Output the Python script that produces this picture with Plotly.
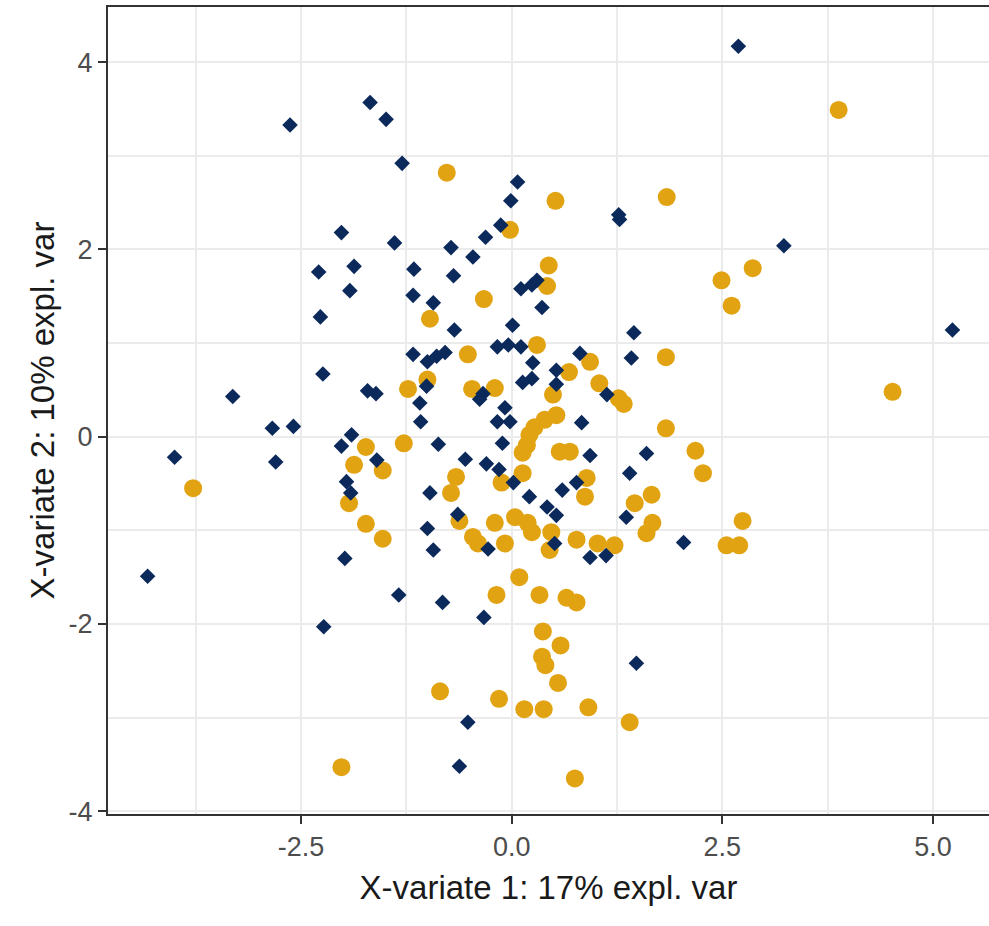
import plotly.graph_objects as go

# Group A (navy diamonds)
a_x = [-2.63, -2.29, -1.68, -1.49, -1.30, 0.07, -0.01, 1.27, 1.28, -2.02,
       -1.39, -0.72, -0.46, -0.31, -0.13, 0.11, 0.24, 0.30, 0.36, -1.87,
       -1.92, -1.16, -1.17, -0.69, -0.93, 2.69, 3.23, 5.23, 2.04, -2.27,
       -2.24, -3.31, -2.84, -2.59, -4.00, -2.80, -4.32, -2.23, -0.33, 1.48,
       -0.52, -0.62, -0.68, 0.01, 1.45, -0.17, -0.04, 0.11, -1.17, -1.00,
       -0.89, -0.79, 0.81, 1.42, 0.25, 0.24, 0.13, 0.53, 0.53, -1.01,
       -1.71, -1.61, -0.34, -0.38, 1.13, -1.09, -0.08, -0.17, -0.02, -1.08,
       0.83, -1.90, -2.02, -0.87, -0.11, 1.60, 0.93, -0.55, -1.60, -0.30,
       -0.15, 1.40, 0.02, -1.96, -1.91, 0.77, 0.60, -0.97, 0.21, 0.42,
       0.53, -0.64, 1.36, -1.00, -0.28, -0.93, 0.51, 0.93, 1.12, -1.98,
       -1.34, -0.82]
a_y = [3.33, 1.76, 3.57, 3.39, 2.92, 2.72, 2.52, 2.37, 2.32, 2.18,
       2.07, 2.02, 1.92, 2.13, 2.26, 1.58, 1.62, 1.67, 1.38, 1.82,
       1.56, 1.79, 1.51, 1.72, 1.43, 4.17, 2.04, 1.14, -1.13, 1.28,
       0.67, 0.43, 0.09, 0.11, -0.22, -0.27, -1.49, -2.03, -1.93, -2.42,
       -3.05, -3.52, 1.14, 1.19, 1.11, 0.96, 0.98, 0.96, 0.88, 0.80,
       0.86, 0.90, 0.89, 0.84, 0.79, 0.62, 0.58, 0.71, 0.56, 0.54,
       0.49, 0.46, 0.46, 0.40, 0.45, 0.36, 0.31, 0.16, 0.16, 0.16,
       0.15, 0.02, -0.10, -0.08, -0.07, -0.18, -0.20, -0.24, -0.25, -0.29,
       -0.35, -0.39, -0.49, -0.48, -0.60, -0.49, -0.57, -0.60, -0.64, -0.75,
       -0.84, -0.83, -0.86, -0.98, -1.20, -1.21, -1.14, -1.29, -1.27, -1.30,
       -1.69, -1.77]

# Group B (gold circles)
b_x = [-0.77, 0.52, 1.84, -0.02, 0.44, 0.42, -0.33, 3.88, 2.86, 2.49,
       2.61, 4.52, 1.83, 1.83, 2.18, 2.27, 2.74, 2.55, 2.70, -3.78,
       0.37, 0.58, 0.36, 0.40, 0.55, -0.85, -0.15, 0.15, 0.38, 0.91,
       1.40, -2.02, 0.75, -0.97, 0.30, -0.52, 0.93, 0.68, -1.00, -1.23,
       -0.47, -0.20, 0.49, 1.04, 1.27, 1.33, 0.53, 0.39, 0.27, 0.21,
       0.18, 0.13, -1.28, -1.73, 0.57, 0.69, -1.87, -1.53, -0.66, -0.72,
       0.13, -0.12, 0.89, 0.87, -1.93, 1.66, 1.46, 1.67, 1.60, -1.73,
       -1.53, -0.62, -0.20, 0.04, 0.19, 0.24, 0.47, -0.46, -0.40, -0.08,
       0.45, 0.77, 1.02, 1.22, 0.09, -0.18, 0.33, 0.65, 0.77]
b_y = [2.82, 2.52, 2.56, 2.21, 1.83, 1.61, 1.47, 3.49, 1.80, 1.67,
       1.40, 0.48, 0.85, 0.09, -0.15, -0.39, -0.90, -1.16, -1.16, -0.55,
       -2.08, -2.23, -2.35, -2.44, -2.63, -2.72, -2.80, -2.91, -2.91, -2.89,
       -3.05, -3.53, -3.65, 1.26, 0.98, 0.88, 0.80, 0.69, 0.61, 0.51,
       0.51, 0.52, 0.45, 0.57, 0.41, 0.35, 0.23, 0.18, 0.10, 0.02,
       -0.09, -0.17, -0.07, -0.11, -0.16, -0.16, -0.30, -0.36, -0.43, -0.60,
       -0.39, -0.49, -0.44, -0.64, -0.71, -0.62, -0.71, -0.92, -1.03, -0.93,
       -1.09, -0.90, -0.92, -0.86, -0.92, -1.02, -1.02, -1.07, -1.14, -1.14,
       -1.21, -1.10, -1.14, -1.16, -1.50, -1.69, -1.69, -1.72, -1.77]

x_ticks = [-2.5, 0.0, 2.5, 5.0]
x_ticklabels = ["-2.5", "0.0", "2.5", "5.0"]
y_ticks = [-4, -2, 0, 2, 4]
y_ticklabels = ["-4", "-2", "0", "2", "4"]

x_title = "X-variate 1: 17% expl. var"
y_title = "X-variate 2: 10% expl. var"

fig = go.Figure()
fig.add_trace(go.Scatter(
    x=b_x, y=b_y, mode="markers",
    marker=dict(symbol="circle", size=18, color="#E2A312", line=dict(width=0)),
    showlegend=False, hoverinfo="skip"))
fig.add_trace(go.Scatter(
    x=a_x, y=a_y, mode="markers",
    marker=dict(symbol="diamond", size=12, color="#0B2A5B", line=dict(width=0)),
    showlegend=False, hoverinfo="skip"))

grid = "#EBEBEB"
axis_common = dict(
    showgrid=True, gridcolor=grid, gridwidth=2,
    zeroline=False, showline=True, linecolor="#333333", linewidth=2,
    ticks="outside", ticklen=8, tickwidth=2, tickcolor="#333333",
    tickfont=dict(family="Liberation Sans, Arial, sans-serif", size=27, color="#4D4D4D"),
)

fig.update_layout(
    width=989, height=926,
    margin=dict(l=108, r=0, t=7, b=112),
    paper_bgcolor="white", plot_bgcolor="white",
    font=dict(family="Liberation Sans, Arial, sans-serif"),
    hovermode=False,
    xaxis=dict(
        range=[-4.79, 5.664], tickvals=x_ticks, ticktext=x_ticklabels,
        mirror=True,
        minor=dict(showgrid=True, gridcolor=grid, gridwidth=1.5, tickvals=[-3.75, -1.25, 1.25, 3.75]),
        title=dict(text=x_title, font=dict(size=33, color="#1A1A1A"), standoff=14),
        **axis_common),
    yaxis=dict(
        range=[-4.03, 4.59], tickvals=y_ticks, ticktext=y_ticklabels,
        minor=dict(showgrid=True, gridcolor=grid, gridwidth=1.5, tickvals=[-3, -1, 1, 3]),
        title=dict(text=y_title, font=dict(size=33, color="#1A1A1A"), standoff=4),
        **axis_common),
)

# remove the page's default body margin and scrollbars so the figure fills the window
fig.write_html(
    "out.html",
    config={"displayModeBar": False},
    post_script="document.body.style.margin='0';document.body.style.overflow='hidden';",
)
